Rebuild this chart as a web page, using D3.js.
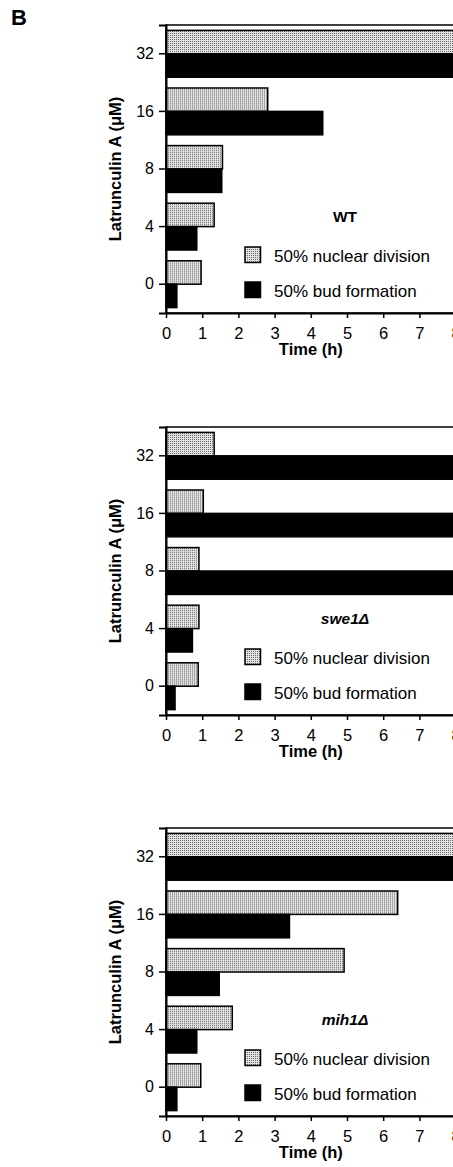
<!DOCTYPE html>
<html>
<head>
<meta charset="utf-8">
<script src="https://cdn.jsdelivr.net/npm/d3@7"></script>
<style>
  html, body { margin: 0; padding: 0; background: #fff; }
  svg { display: block; font-family: "Liberation Sans", Arial, Helvetica, sans-serif; }
</style>
</head>
<body>
<svg id="chart" width="453" height="1167"></svg>
<script>
// ---- data ----
const concentrations = ["32", "16", "8", "4", "0"];
const seriesNames = ["50% nuclear division", "50% bud formation"];
const timeTicks = [0, 1, 2, 3, 4, 5, 6, 7, 8];
const panelNames = ["WT", "swe1\u0394", "mih1\u0394"];
const wtNuclear   = [8, 2.81, 1.56, 1.33, 0.97];
const wtBud       = [8, 4.33, 1.54, 0.85, 0.30];
const swe1Nuclear = [1.33, 1.03, 0.91, 0.91, 0.89];
const swe1Bud     = [8, 8, 8, 0.73, 0.25];
const mih1Nuclear = [8, 6.40, 4.92, 1.83, 0.96];
const mih1Bud     = [8, 3.41, 1.47, 0.85, 0.30];

const panels = [
  { name: panelNames[0], italic: false, nuclear: wtNuclear, bud: wtBud },
  { name: panelNames[1], italic: true,  nuclear: swe1Nuclear, bud: swe1Bud },
  { name: panelNames[2], italic: true,  nuclear: mih1Nuclear, bud: mih1Bud }
];

// ---- layout ----
const svg = d3.select("#chart");
const left = 166, right = 455.6;
const panelTops = [25, 427, 828];
const plotH = 288;

// stipple pattern for grey bars
const defs = svg.append("defs");
const pat = defs.append("pattern").attr("id", "stip")
  .attr("width", 2).attr("height", 2).attr("patternUnits", "userSpaceOnUse");
pat.append("rect").attr("width", 2).attr("height", 2).attr("fill", "#e2e2e2");
pat.append("rect").attr("x", 0).attr("y", 0).attr("width", 1).attr("height", 1).attr("fill", "#6a6a6a");

const fills = ["url(#stip)", "#000"];

svg.append("text").attr("x", 11).attr("y", 25)
  .attr("font-size", 22).attr("font-weight", "bold").text("B");

const x = d3.scaleLinear().domain([0, 8]).range([left, right]);

panels.forEach((p, pi) => {
  const top = panelTops[pi];
  const g = svg.append("g");
  const y0 = d3.scaleBand().domain(concentrations).range([top, top + plotH]).padding(0);
  const y1 = d3.scaleBand().domain(seriesNames).range([0, y0.bandwidth()])
    .paddingInner(0).paddingOuter(0.23);

  // frame
  g.append("rect").attr("x", left).attr("y", top)
    .attr("width", right - left + 10).attr("height", plotH)
    .attr("fill", "none").attr("stroke", "#000").attr("stroke-width", 1.5);

  // bars
  const rows = concentrations.map((c, i) => ({ c, vals: [p.nuclear[i], p.bud[i]] }));
  const rg = g.selectAll("g.row").data(rows).join("g")
    .attr("transform", d => `translate(0,${y0(d.c)})`);
  rg.selectAll("rect").data(d => d.vals.map((v, k) => ({ v, k })))
    .join("rect")
    .attr("x", x(0))
    .attr("y", d => y1(seriesNames[d.k]))
    .attr("width", d => x(d.v) - x(0))
    .attr("height", y1.bandwidth())
    .attr("fill", d => fills[d.k])
    .attr("stroke", "#000").attr("stroke-width", 1.5);

  // y axis
  const ya = g.append("g").attr("transform", `translate(${left},0)`)
    .call(d3.axisLeft(y0).tickSize(7).tickPadding(5));
  ya.select(".domain").attr("stroke-width", 2);
  ya.selectAll(".tick line").attr("stroke-width", 1.5);
  ya.selectAll("text").attr("font-size", 16).attr("font-family", null).attr("fill", "#000");

  // x axis
  const xa = g.append("g").attr("transform", `translate(0,${top + plotH})`)
    .call(d3.axisBottom(x).tickValues(timeTicks).tickFormat(d3.format("d")).tickSize(5).tickPadding(9).tickSizeOuter(0));
  xa.select(".domain").attr("stroke-width", 2);
  xa.selectAll(".tick line").attr("stroke-width", 1.5);
  xa.selectAll("text").attr("font-size", 16.5).attr("font-family", null).attr("fill", "#000");

  // axis titles
  g.append("text").attr("x", (left + right) / 2).attr("y", top + plotH + 42)
    .attr("text-anchor", "middle").attr("font-size", 16.5).attr("font-weight", "bold")
    .text("Time (h)");
  g.append("text")
    .attr("transform", `translate(121,${top + plotH / 2}) rotate(-90)`)
    .attr("text-anchor", "middle").attr("font-size", 16.5).attr("font-weight", "bold")
    .text("Latrunculin A (\u03BCM)");

  // legend
  g.append("text").attr("x", 345).attr("y", top + 197)
    .attr("text-anchor", "middle").attr("font-size", 15.5).attr("font-weight", "bold")
    .attr("font-style", p.italic ? "italic" : "normal").text(p.name);
  const lg = g.selectAll("g.leg").data(seriesNames).join("g")
    .attr("transform", (d, i) => `translate(245,${top + 222 + i * 35})`);
  lg.append("rect").attr("width", 15.5).attr("height", 15.5)
    .attr("fill", (d, i) => fills[i]).attr("stroke", "#000").attr("stroke-width", 1.5);
  lg.append("text").attr("x", 29).attr("y", 14.5).attr("font-size", 17).text(d => d);
});
</script>
</body>
</html>
